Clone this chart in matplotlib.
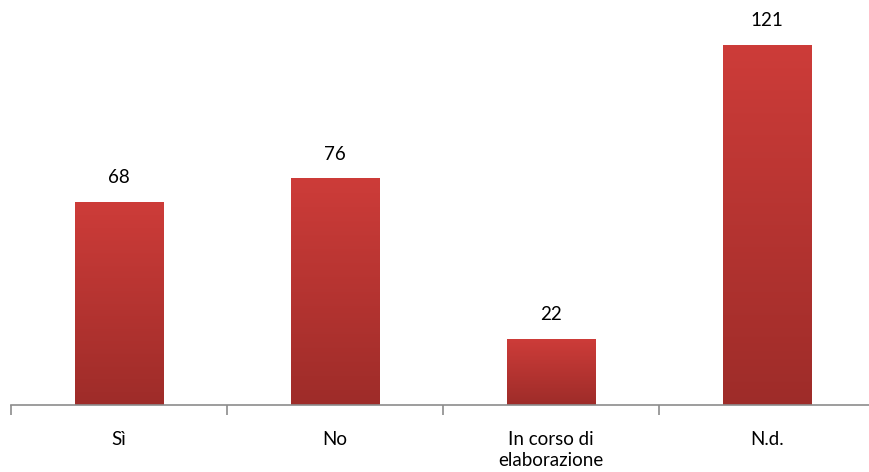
import numpy as np
import matplotlib.pyplot as plt
from matplotlib.colors import LinearSegmentedColormap

categorie = ["Sì", "No", "In corso di\nelaborazione", "N.d."]
valori = [68, 76, 22, 121]

plt.rcParams['font.family'] = ['Lato', 'DejaVu Sans']

fig = plt.figure(figsize=(8.69, 4.72), dpi=100)
ax = fig.add_axes([11/869, (472-405)/472, 864/869, 401.6/472])

# gradiente verticale: scuro in basso, chiaro in alto
cmap = LinearSegmentedColormap.from_list("rosso", ["#9e2c29", "#cd3c39"])
grad = np.linspace(0, 1, 256).reshape(-1, 1)

x = np.arange(len(valori))
w = 0.41
bars = ax.bar(x, valori, width=w, color="none", edgecolor="none")
for b, v in zip(bars, valori):
    x0 = b.get_x()
    ax.imshow(grad, cmap=cmap, origin="lower", aspect="auto",
              extent=(x0, x0 + w, 0, v), zorder=2)
    ax.text(b.get_x() + w/2, v + 5.5, str(v), ha="center", va="bottom",
            fontsize=13.5, color="black")

ax.set_xlim(-0.5, 3.5)
ax.set_ylim(0, 135)

for s in ["top", "right", "left"]:
    ax.spines[s].set_visible(False)
ax.spines["bottom"].set_color("#8c8c8c")
ax.spines["bottom"].set_linewidth(1.2)
ax.set_yticks([])

ax.set_xticks(np.arange(-0.5, 4, 1))
ax.set_xticklabels([])
ax.tick_params(axis="x", which="major", direction="out", length=7,
               color="#8c8c8c", width=1.2)
ax.set_xticks(x, minor=True)
ax.set_xticklabels(categorie, minor=True, fontsize=13.5, linespacing=1.25)
ax.tick_params(axis="x", which="minor", length=0, pad=19)

fig.savefig("out.png", dpi=100)
